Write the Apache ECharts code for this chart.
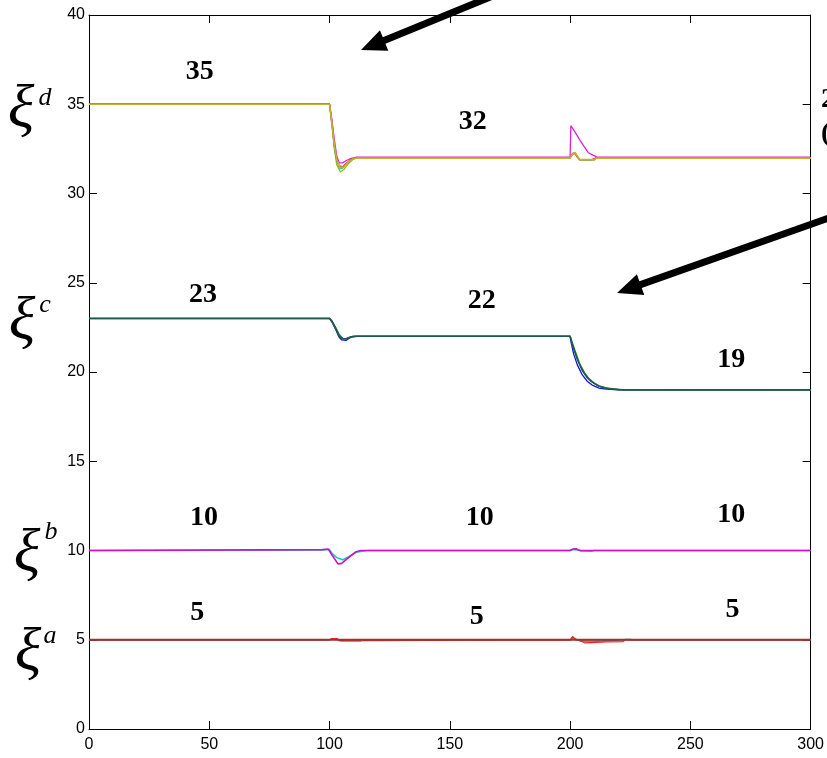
<!DOCTYPE html>
<html>
<head>
<meta charset="utf-8">
<script src="https://cdn.jsdelivr.net/npm/echarts@6/dist/echarts.min.js"></script>
<style>
html,body{margin:0;padding:0;background:#fff;}
#main{width:827px;height:758px;}
</style>
</head>
<body>
<div id="main"></div>
<script>
// ---- axis settings ----
const xRange = [0, 300];
const yRange = [0, 40];
const xStep = 50;
const yStep = 5;

// ---- ξ^d group ----
const dGreen = [[0,35],[100,35],[101,33.8],[102,32.5],[103,31.6],[104.5,31.2],[106,31.35],[108,31.7],[110,31.95],[111.5,32],[200,32],[201,32.25],[202,32.3],[203,32.05],[204,31.88],[210,31.88],[211,32],[300,32]];
const dCyan = [[0,35],[100,35],[101,33.9],[102,32.6],[103,31.8],[104.2,31.4],[105.5,31.42],[107,31.65],[109,31.9],[111,32],[200,32],[201,32.2],[202,32.3],[203,32.05],[204,31.88],[210,31.88],[211,32],[300,32]];
const dRed = [[0,35],[100,35],[101,34],[102,32.7],[103,31.9],[104,31.55],[105.5,31.5],[107,31.7],[109,31.9],[111,32],[200,32],[201,32.2],[202,32.25],[203,32.05],[204,31.9],[209,31.9],[211,32],[300,32]];
const dMagenta = [[0,35],[100,35],[101,34.1],[102,33],[103,32.1],[104,31.72],[105.5,31.72],[107,31.85],[109,31.97],[111,32.03],[200,32.03],[200.3,33.8],[201,33.7],[202,33.45],[204,33.0],[206,32.6],[207.5,32.3],[209.5,32.15],[211,32.05],[212,32.03],[300,32.03]];
const dOlive = [[0,35],[100,35],[101,33.9],[102,32.7],[103,31.9],[104.3,31.45],[106,31.5],[108,31.8],[110,31.95],[111.5,31.98],[200,31.98],[201,32.2],[202,32.3],[203,32.1],[204,31.9],[210,31.9],[211,31.98],[300,31.98]];

// ---- ξ^c group ----
const cBlue = [[0,23],[100,23],[101,22.8],[102.5,22.4],[104,21.95],[105,21.8],[107,21.78],[108.5,21.92],[110,21.98],[112,22],[200,22],[200.5,21.6],[201.5,21.0],[203,20.4],[205,19.85],[207,19.5],[209,19.28],[212,19.1],[215,19.04],[220,19.0],[300,19]];
const cGreen = [[0,23],[100,23],[101,22.85],[102.5,22.5],[104,22.1],[105.5,21.88],[107,21.85],[108.5,21.95],[110,22],[200,22],[201,21.6],[202,21.2],[204,20.45],[206,19.95],[208,19.6],[210,19.38],[212,19.22],[215,19.1],[220,19.02],[300,19]];
const cTeal = [[0,23],[100,23],[101,22.85],[102.5,22.45],[104,22.0],[105.5,21.85],[107,21.88],[109,21.97],[111,22],[200,22],[201,21.5],[203,20.7],[205,20.1],[207,19.7],[209,19.45],[212,19.2],[216,19.06],[222,19.0],[300,19]];

// ---- ξ^b group ----
const bCyan = [[0,10],[97,10.03],[100,10.05],[101,9.85],[103,9.6],[105.5,9.48],[108,9.65],[111,9.9],[113,9.95],[116,10],[200,10],[201.5,10.06],[203,10.04],[204.5,9.97],[209,9.96],[210,10],[300,10]];
const bMagenta = [[0,10],[97,10.05],[99.5,10.08],[101,9.75],[103.5,9.25],[105,9.28],[108,9.62],[111,9.93],[113,10],[200,10],[201,10.08],[202.5,10.1],[203.5,10.03],[204.5,10],[300,10]];

// ---- ξ^a group ----
const aTeal = [[0,5],[100,5],[101.5,5.04],[103,5.02],[104,4.95],[113,4.95],[114,5],[200,5],[201,5.04],[202.5,5.0],[205,4.93],[213,4.93],[215,4.96],[222,4.98],[223,5.02],[225,5.02],[226,5],[300,5]];
const aRed = [[0,5],[100,5],[101,5.06],[103,5.06],[104,5.0],[105,4.95],[113.5,4.95],[114,5],[199,5],[199.5,5.04],[200,4.98],[201,5.18],[202,5.06],[203,5.0],[204,4.95],[205,4.9],[206,4.83],[206.5,4.88],[215,4.88],[222,4.9],[223,5],[300,5]];
const aBrown = [[0,5],[300,5]];

// ---- value annotations (data coordinates) ----
const valueLabels = [
  ['35', 46, 36.8], ['32', 159.5, 34.0],
  ['23', 47.4, 24.3], ['22', 163.3, 24.0], ['19', 267, 20.67],
  ['10', 47.8, 11.82], ['10', 162.4, 11.82], ['10', 267, 11.99],
  ['5', 45, 6.5], ['5', 161.2, 6.27], ['5', 267.5, 6.67]
];

const seriesList = [
  {d: dGreen, c: '#86c416', w: 1.3}, {d: dCyan, c: '#1cc4c4', w: 1.3}, {d: dRed, c: '#ff1010', w: 1.3},
  {d: dMagenta, c: '#e020e0', w: 1.3}, {d: dOlive, c: '#c4b228', w: 1.6},
  {d: cBlue, c: '#1010ff', w: 1.3}, {d: cGreen, c: '#1a8a1a', w: 1.5}, {d: cTeal, c: '#1f5a4a', w: 1.6},
  {d: bCyan, c: '#10c8c8', w: 1.5}, {d: bMagenta, c: '#cc10cc', w: 1.6},
  {d: aTeal, c: '#2e7a7a', w: 1.5}, {d: aRed, c: '#ff1a1a', w: 1.3}, {d: aBrown, c: '#9c3434', w: 2}
];

const chart = echarts.init(document.getElementById('main'));

const axisLineStyle = {show: true, onZero: false, lineStyle: {color: '#000', width: 1}};
const tickStyle = {show: true, inside: true, length: 8, lineStyle: {color: '#000', width: 1}};

function xAx(pos, showLabel) {
  return {type: 'value', min: xRange[0], max: xRange[1], interval: xStep, position: pos,
    axisLine: axisLineStyle, axisTick: tickStyle, splitLine: {show: false},
    axisLabel: {show: showLabel, color: '#000', fontSize: 16, fontFamily: 'Liberation Sans', margin: 8}};
}
function yAx(pos, showLabel) {
  return {type: 'value', min: yRange[0], max: yRange[1], interval: yStep, position: pos,
    axisLine: axisLineStyle, axisTick: tickStyle, splitLine: {show: false},
    axisLabel: {show: showLabel, color: '#000', fontSize: 16, fontFamily: 'Liberation Sans', margin: 4}};
}

chart.setOption({
  animation: false,
  backgroundColor: '#fff',
  grid: {left: 89, right: 15, top: 15, bottom: 29, containLabel: false},
  xAxis: [xAx('bottom', true), xAx('top', false)],
  yAxis: [yAx('left', true), yAx('right', false)],
  series: seriesList.map(s => ({
    type: 'line', xAxisIndex: 0, yAxisIndex: 0, data: s.d, showSymbol: false, symbol: 'none',
    lineStyle: {color: s.c, width: s.w}, itemStyle: {color: s.c}
  }))
});

function arrowPoly(tail, tip, shaftW, headLen, headW) {
  const dx = tip[0] - tail[0], dy = tip[1] - tail[1];
  const L = Math.hypot(dx, dy);
  const ux = dx / L, uy = dy / L, nx = -uy, ny = ux;
  const bx = tip[0] - ux * headLen, by = tip[1] - uy * headLen;
  const s = shaftW / 2, h = headW / 2;
  return [
    [tail[0] + nx * s, tail[1] + ny * s],
    [bx + nx * s, by + ny * s],
    [bx + nx * h, by + ny * h],
    tip,
    [bx - nx * h, by - ny * h],
    [bx - nx * s, by - ny * s],
    [tail[0] - nx * s, tail[1] - ny * s]
  ];
}

const graphics = [];
valueLabels.forEach(v => {
  const p = chart.convertToPixel({gridIndex: 0}, [v[1], v[2]]);
  graphics.push({type: 'text', x: p[0], y: p[1], z: 100,
    style: {text: v[0], fill: '#000', font: 'bold 28px "Liberation Serif"', align: 'center', verticalAlign: 'middle'}});
});

const greek = [
  ['d', 21, 111, 45, 98],
  ['c', 22, 323, 45, 305],
  ['b', 27, 555, 51, 532],
  ['a', 28, 654, 50, 636]
];
greek.forEach(g => {
  graphics.push({type: 'text', x: g[1], y: g[2], style: {text: 'ξ', fill: '#000', font: 'italic 62px "Liberation Serif"', align: 'center', verticalAlign: 'middle'}});
  graphics.push({type: 'text', x: g[3], y: g[4], style: {text: g[0], fill: '#000', font: 'italic 26px "Liberation Serif"', align: 'center', verticalAlign: 'middle'}});
});

graphics.push({type: 'polygon', z: 100, shape: {points: arrowPoly([500, -7], [361, 50], 7, 25, 22)}, style: {fill: '#000'}});
graphics.push({type: 'polygon', z: 100, shape: {points: arrowPoly([840, 214], [617, 293], 7, 25, 22)}, style: {fill: '#000'}});

graphics.push({type: 'text', x: 821, y: 100, style: {text: '2', fill: '#000', font: 'bold 28px "Liberation Serif"', align: 'left', verticalAlign: 'middle'}});
graphics.push({type: 'text', x: 821, y: 134, style: {text: '(', fill: '#000', font: 'bold 28px "Liberation Serif"', align: 'left', verticalAlign: 'middle'}});

chart.setOption({graphic: graphics});
</script>
</body>
</html>
